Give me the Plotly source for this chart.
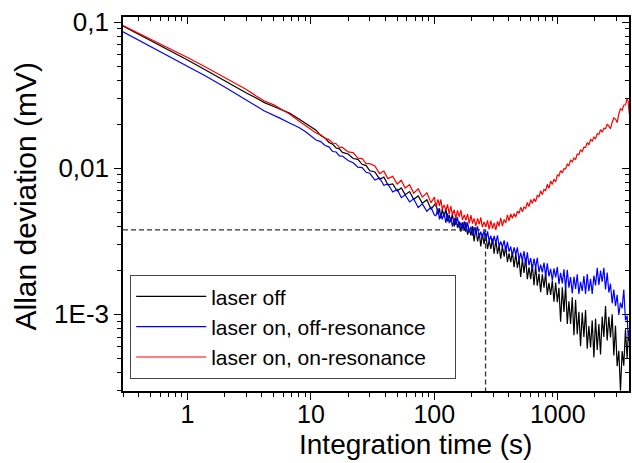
import math
import plotly.graph_objects as go

# Integration time (s)
tau = [0.3, 0.4, 0.5, 0.7, 1, 1.4, 2, 2.5, 3, 3.6, 4.2, 5, 5.6, 6.7, 8, 9, 10,
       11, 12, 13, 14, 15, 16, 17, 18, 20, 22, 24, 26, 28, 30, 33, 36, 39, 42, 46, 50,
       54, 58, 63, 68, 74, 80, 87, 94, 100,
       103, 107, 110, 113, 116, 120, 124, 128, 132, 136, 140, 145, 149, 154, 159, 164, 169,
       175, 180, 186, 192, 198, 204, 210, 217, 224, 231, 238, 245, 253, 261, 270, 278, 287,
       296, 305, 315, 325, 335, 345, 356, 368, 379, 391, 403, 416, 429, 443, 457, 471, 486,
       501, 517, 533, 550, 567, 585, 604, 622, 642, 662, 683, 705, 727, 750, 774, 798, 823,
       849, 876, 904, 932, 962, 992, 1023, 1055, 1089, 1123, 1158, 1195, 1232, 1271, 1311,
       1353, 1395, 1439, 1484, 1531, 1579, 1629, 1681, 1734, 1788, 1845, 1903, 1963, 2025,
       2089, 2155, 2222, 2292, 2364, 2439, 2516, 2596, 2677, 2762, 2848, 2938, 3030, 3126,
       3224, 3326, 3430, 3539, 3650, 3720, 3800]

# Allan deviation (mV), laser off
dev_laser_off = [
    0.0939, 0.0828, 0.0747, 0.0643, 0.0550, 0.0470, 0.0395, 0.0356, 0.0327, 0.0302,
    0.0281, 0.0264, 0.0254, 0.0238, 0.0217, 0.0204, 0.0191,
    0.0182, 0.0167, 0.0161, 0.0150, 0.0146, 0.01374, 0.01357, 0.01283, 0.01251, 0.01164,
    0.01148, 0.01063, 0.01041, 0.00959, 0.00941, 0.00841, 0.00869, 0.00769, 0.0078, 0.00698,
    0.00733, 0.00659, 0.00692, 0.00612, 0.00646, 0.00575, 0.00608, 0.00524, 0.00561,
    0.00577, 0.00483, 0.00531, 0.00453, 0.00525, 0.00463, 0.00527, 0.00433, 0.00478, 0.0043,
    0.00485, 0.004, 0.0047, 0.00392, 0.00433, 0.00368, 0.00426, 0.00374, 0.00427, 0.00351,
    0.00386, 0.00347, 0.00402, 0.00316, 0.00394, 0.00315, 0.0036, 0.00292, 0.00356, 0.00302,
    0.00359, 0.0028, 0.00321, 0.0028, 0.0033, 0.0026, 0.00324, 0.00259, 0.00296, 0.0024,
    0.00292, 0.00248, 0.00294, 0.00228, 0.00261, 0.00228, 0.00268, 0.0021, 0.00261, 0.00208,
    0.00241, 0.0018, 0.00239, 0.00192, 0.00244, 0.00174, 0.0021, 0.00174, 0.0022, 0.00158,
    0.00214, 0.00157, 0.0019, 0.00142, 0.00188, 0.00152, 0.00192, 0.00136, 0.00164, 0.00136,
    0.0017, 0.00122, 0.00165, 0.00121, 0.00152, 0.00089, 0.00153, 0.00104, 0.00158, 0.00086,
    0.00123, 0.00086, 0.00131, 0.00072, 0.00126, 0.00073, 0.00104, 0.000605, 0.00103, 0.0007,
    0.00107, 0.000583, 0.000833, 0.000594, 0.000909, 0.000507, 0.000933, 0.00057, 0.000857, 0.000532,
    0.000966, 0.000701, 0.00114, 0.000662, 0.000964, 0.000695, 0.001, 0.000523, 0.000837, 0.000442,
    0.000564, 0.0003, 0.00056, 0.000445, 0.000792, 0.000498, 0.000701, 0.00066]

# Allan deviation (mV), laser on, off-resonance
dev_off_resonance = [
    0.0858, 0.0753, 0.0680, 0.0585, 0.0500, 0.0427, 0.0359, 0.0322, 0.0293, 0.0266,
    0.0246, 0.0231, 0.0220, 0.0204, 0.0190, 0.0178, 0.0167,
    0.0156, 0.0152, 0.0143, 0.0140, 0.0130, 0.0129, 0.01215, 0.0121, 0.01129, 0.0109,
    0.01016, 0.01009, 0.00937, 0.00923, 0.0083, 0.00858, 0.00763, 0.0078, 0.00687, 0.00716,
    0.00629, 0.00658, 0.00588, 0.00617, 0.00538, 0.0057, 0.00507, 0.0054, 0.00478,
    0.00473, 0.00531, 0.00447, 0.00489, 0.00446, 0.00498, 0.00423, 0.00491, 0.00421, 0.00459,
    0.00399, 0.00456, 0.00409, 0.00461, 0.00388, 0.00424, 0.00386, 0.00432, 0.00367, 0.00426,
    0.00364, 0.00398, 0.00346, 0.00395, 0.00354, 0.004, 0.00337, 0.00368, 0.00335, 0.00374,
    0.00318, 0.0037, 0.00317, 0.00346, 0.003, 0.00344, 0.00308, 0.00347, 0.0029, 0.00316,
    0.00288, 0.00321, 0.00271, 0.00313, 0.00268, 0.00291, 0.00252, 0.00287, 0.00256, 0.00287,
    0.00234, 0.00264, 0.00233, 0.00271, 0.00218, 0.00266, 0.00216, 0.00243, 0.00202, 0.00241,
    0.00209, 0.00244, 0.00194, 0.00219, 0.00194, 0.00226, 0.00182, 0.00223, 0.00182, 0.00205,
    0.00171, 0.00206, 0.00179, 0.00211, 0.00161, 0.00192, 0.00163, 0.00203, 0.0015, 0.00202,
    0.00152, 0.0018, 0.00139, 0.00181, 0.00149, 0.00188, 0.00138, 0.00167, 0.00144, 0.00183,
    0.00138, 0.00189, 0.00144, 0.00175, 0.00138, 0.00184, 0.00158, 0.00208, 0.00159, 0.00199,
    0.00167, 0.00208, 0.00148, 0.00193, 0.00141, 0.00162, 0.00119, 0.00148, 0.00114, 0.00136,
    0.00099, 0.0012, 0.0011, 0.00148, 0.00091, 0.00098, 0.0007, 0.00078]

# Allan deviation (mV), laser on, on-resonance
dev_on_resonance = [
    0.0946, 0.0841, 0.0765, 0.0664, 0.0572, 0.0492, 0.0417, 0.0377, 0.0345, 0.0312,
    0.0288, 0.0271, 0.0256, 0.0235, 0.0210, 0.0196, 0.0184,
    0.0174, 0.0169, 0.0160, 0.01568, 0.01487, 0.0147, 0.01388, 0.01386, 0.01293, 0.01278,
    0.01171, 0.01163, 0.01074, 0.01074, 0.01037, 0.00918, 0.00955, 0.00848, 0.00879, 0.0078,
    0.00826, 0.00732, 0.0077, 0.00675, 0.00722, 0.00634, 0.00679, 0.0058, 0.00634,
    0.00544, 0.00612, 0.00552, 0.00611, 0.00521, 0.00561, 0.00514, 0.00565, 0.00484, 0.00551,
    0.0048, 0.00519, 0.00456, 0.00514, 0.00465, 0.00517, 0.00443, 0.00479, 0.0044, 0.00486,
    0.00419, 0.00478, 0.00418, 0.00454, 0.00401, 0.00454, 0.00413, 0.0046, 0.00395, 0.00429,
    0.00396, 0.00439, 0.00381, 0.00438, 0.00386, 0.00422, 0.00378, 0.00433, 0.00401, 0.00457,
    0.00402, 0.00446, 0.00422, 0.00479, 0.00436, 0.00486, 0.00455, 0.00489, 0.00462, 0.00509,
    0.00491, 0.0054, 0.00503, 0.00542, 0.00531, 0.00583, 0.00546, 0.0061, 0.00574, 0.00619,
    0.0059, 0.00655, 0.00635, 0.007, 0.00659, 0.00716, 0.00703, 0.00775, 0.00729, 0.00816,
    0.00775, 0.00842, 0.00806, 0.00898, 0.00884, 0.00962, 0.00928, 0.00991, 0.00988, 0.01066,
    0.01036, 0.01139, 0.01103, 0.01174, 0.01148, 0.01249, 0.01236, 0.01338, 0.01298, 0.01391,
    0.01386, 0.01496, 0.01443, 0.01573, 0.0153, 0.01634, 0.01592, 0.01725, 0.017, 0.01833,
    0.01763, 0.01877, 0.01862, 0.02002, 0.01939, 0.0186, 0.02064, 0.02204, 0.02166, 0.0205,
    0.02349, 0.02552, 0.02494, 0.02695, 0.02718, 0.02967, 0.02862, 0.0235]

series_names = ["laser off", "laser on, off-resonance", "laser on, on-resonance\u00a0\u00a0\u00a0\u00a0"]
series_colors = ["#000000", "#0000ff", "#ff0000"]

# reference point marked by the dashed lines
ref_tau = 260
ref_dev = 0.00378

x_ticks = [1, 10, 100, 1000]
x_ticktext = ["1", "10", "100", "1000"]
y_ticks = [0.001, 0.01, 0.1]
y_ticktext = ["1E-3", "0,01", "0,1"]

x_title = "Integration time (s)"
y_title = "Allan deviation (mV)"

x_lim = [0.3, 3780]
y_lim = [0.000299, 0.1082]

x_range = [math.log10(v) for v in x_lim]
y_range = [math.log10(v) for v in y_lim]
x_minor = [m * 10 ** e for e in range(-1, 4) for m in range(2, 10) if x_lim[0] <= m * 10 ** e <= x_lim[1]]
y_minor = [m * 10 ** e for e in range(-4, 0) for m in range(2, 10) if y_lim[0] <= m * 10 ** e <= y_lim[1]]

FONT = "Arial, Liberation Sans, sans-serif"

fig = go.Figure()
for name, col, ys in [(series_names[0], series_colors[0], dev_laser_off),
                      (series_names[1], series_colors[1], dev_off_resonance),
                      (series_names[2], series_colors[2], dev_on_resonance)]:
    fig.add_trace(go.Scatter(x=tau, y=ys, mode="lines", name=name,
                             line=dict(color=col, width=1.2), hoverinfo="skip"))

# dashed guide lines
fig.add_trace(go.Scatter(x=[x_lim[0], ref_tau, ref_tau], y=[ref_dev, ref_dev, y_lim[0]],
                         mode="lines", showlegend=False, hoverinfo="skip",
                         line=dict(color="#333333", width=1.3, dash="5px,3px")))

# invisible trace for mirrored (top/right) axes
fig.add_trace(go.Scatter(x=[tau[0]], y=[dev_laser_off[0]], xaxis="x2", yaxis="y2",
                         mode="markers", marker=dict(opacity=0), showlegend=False,
                         hoverinfo="skip"))

axis_base = dict(type="log", showgrid=False, zeroline=False, showline=True,
                 linecolor="black", linewidth=1.6, tickcolor="black", tickwidth=1.4,
                 ticklen=7, tickfont=dict(family=FONT, size=26, color="black"))

fig.update_layout(
    width=632, height=463,
    margin=dict(l=123, r=3, t=17, b=72),
    paper_bgcolor="white", plot_bgcolor="white",
    font=dict(family=FONT, color="black"),
    xaxis=dict(**{**axis_base, "tickfont": dict(family=FONT, size=25, color="black")},
               range=x_range, ticks="outside",
               tickmode="array", tickvals=x_ticks, ticktext=x_ticktext,
               ticklabelstandoff=-7,
               minor=dict(tickmode="array", tickvals=x_minor, ticks="outside",
                          ticklen=4, tickwidth=1.2, tickcolor="black", showgrid=False)),
    yaxis=dict(**axis_base, range=y_range, ticks="outside",
               tickmode="array", tickvals=y_ticks, ticktext=y_ticktext,
               minor=dict(tickmode="array", tickvals=y_minor, ticks="outside",
                          ticklen=4, tickwidth=1.2, tickcolor="black", showgrid=False)),
    xaxis2=dict(**axis_base, range=x_range, overlaying="x", side="top", anchor="y2",
                ticks="inside", showticklabels=False,
                tickmode="array", tickvals=x_ticks,
                minor=dict(tickmode="array", tickvals=x_minor, ticks="inside",
                           ticklen=4, tickwidth=1.2, tickcolor="black", showgrid=False)),
    yaxis2=dict(**axis_base, range=y_range, overlaying="y", side="right", anchor="x2",
                ticks="inside", showticklabels=False,
                tickmode="array", tickvals=y_ticks,
                minor=dict(tickmode="array", tickvals=y_minor, ticks="inside",
                           ticklen=4, tickwidth=1.2, tickcolor="black", showgrid=False)),
    legend=dict(x=0.0138, y=0.31, xanchor="left", yanchor="top",
                bgcolor="white", bordercolor="#444444", borderwidth=1.2,
                font=dict(family=FONT, size=21, color="black"),
                itemwidth=70, tracegroupgap=0),
    showlegend=True,
    annotations=[
        dict(text=x_title, xref="paper", yref="paper", x=0.578, y=-0.19,
             xanchor="center", yanchor="bottom", showarrow=False,
             font=dict(family=FONT, size=28, color="black")),
        dict(text=y_title, xref="paper", yref="paper", x=-0.193, y=0.521,
             xanchor="center", yanchor="middle", showarrow=False, textangle=-90,
             font=dict(family=FONT, size=30, color="black")),
    ],
)

fig.write_html("out.html")
